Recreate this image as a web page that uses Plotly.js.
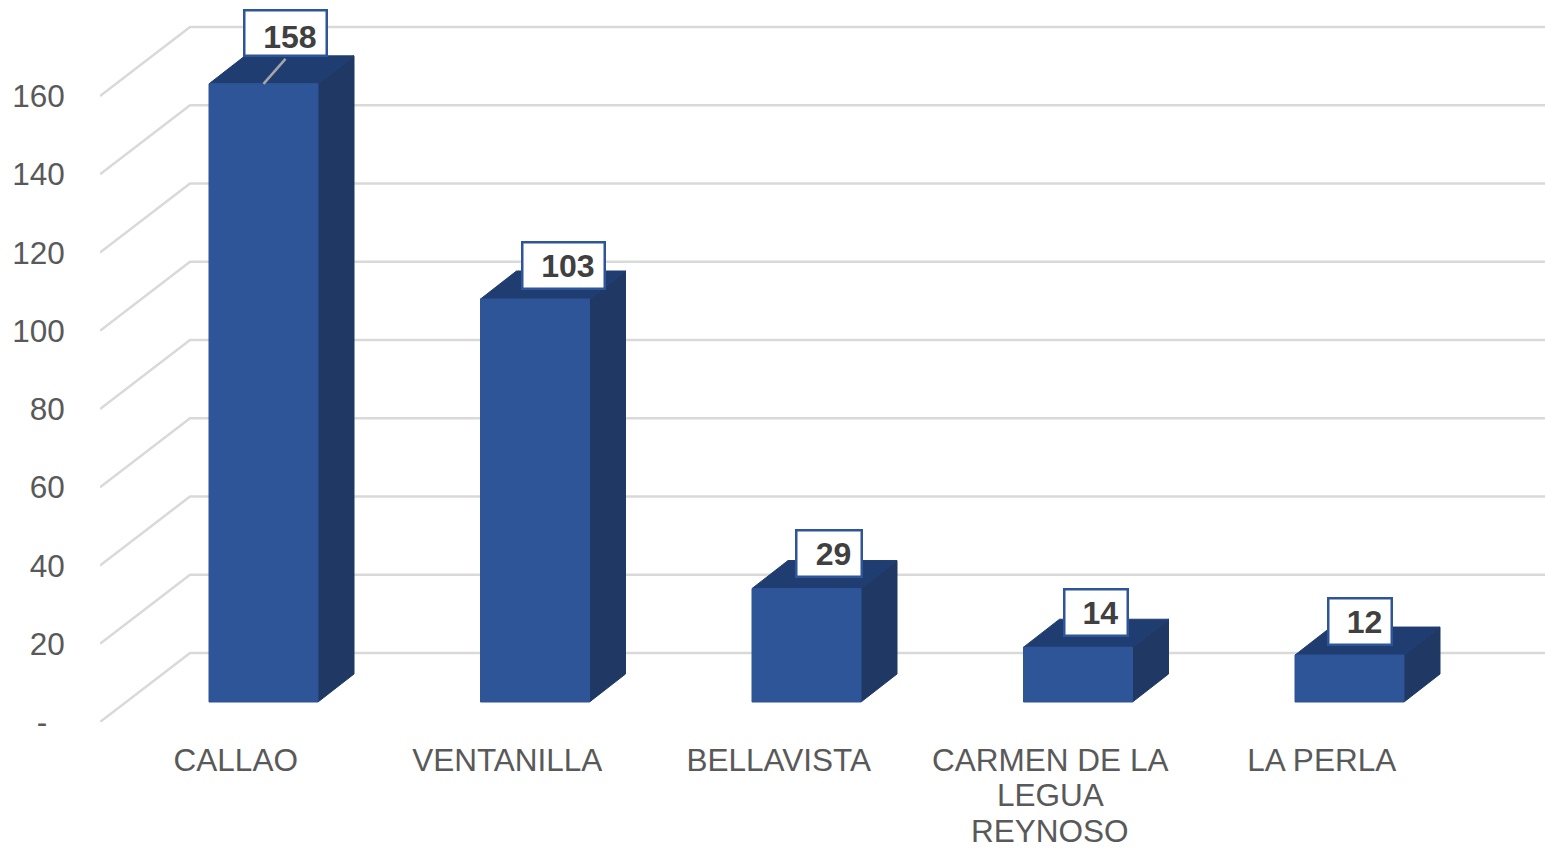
<!DOCTYPE html>
<html>
<head>
<meta charset="utf-8">
<script src="https://cdn.plot.ly/plotly-3.0.1.min.js"></script>
<style>html,body{margin:0;padding:0;background:#fff;overflow:hidden}</style>
</head>
<body>
<div id="chart" style="width:1545px;height:850px"></div>
<script>
// ---- data ----
const categories = ["CALLAO", "VENTANILLA", "BELLAVISTA", "CARMEN DE LA", "LA PERLA"];
const categoryExtraLines = [[], [], [], ["LEGUA", "REYNOSO"], []];
const values = [158, 103, 29, 14, 12];
const yTickValues = [0, 20, 40, 60, 80, 100, 120, 140, 160];
const yTickLabels = ["-\u00a0\u00a0", "20", "40", "60", "80", "100", "120", "140", "160"];
const gridValues = [0, 20, 40, 60, 80, 100, 120, 140, 160];

// ---- geometry of the fake 3D projection (pixels) ----
const W = 1545, H = 850, L = 100, B = 128;
const CAT_PX = 271.5, UNIT_PX = 3.9125;
const dxU = px => px / CAT_PX;
const dyU = px => px / UNIT_PX;
const xRange = [-0.5, -0.5 + (W - L) / CAT_PX];
const yRange = [0, (H - B) / UNIT_PX];
const WALL_DX = 90, WALL_DY = 69;
const BAR_SHIFT_X = 27.75, BAR_HALF = 54.5, BAR_LIFT = 20, BAR_DX = 36, BAR_DY = 28;
const labelShift = [[21.5, 51], [28, 34], [22, 35], [18, 35], [10, 34]];
const labelSize = [[84, 47], [84, 48], [67, 48], [65, 48], [65, 48]];
const labelValign = ["bottom", "middle", "middle", "middle", "middle"];

const C_FRONT = "#2E5597", C_SIDE = "#1F3864", C_TOP = "#203D72", C_GRID = "#D9D9D9";
const FONT = "Liberation Sans, Arial, sans-serif";
const traces = [];

// gridlines: left wall then back wall
const gx = [], gy = [];
gridValues.forEach(v => {
  gx.push(xRange[0], xRange[0] + dxU(WALL_DX), xRange[1], null);
  gy.push(v, v + dyU(WALL_DY), v + dyU(WALL_DY), null);
});
traces.push({type: "scatter", mode: "lines", x: gx, y: gy, hoverinfo: "skip", showlegend: false,
  line: {color: C_GRID, width: 2.5}});

function poly(xs, ys, color) {
  traces.push({type: "scatter", mode: "lines", x: xs, y: ys, fill: "toself", fillcolor: color,
    line: {color: color, width: 1}, hoverinfo: "skip", showlegend: false});
}

values.forEach((v, i) => {
  const c = i + dxU(BAR_SHIFT_X);
  const x0 = c - dxU(BAR_HALF), x1 = c + dxU(BAR_HALF);
  const y0 = dyU(BAR_LIFT), y1 = y0 + v;
  const ox = dxU(BAR_DX), oy = dyU(BAR_DY);
  poly([x1, x1 + ox, x1 + ox, x1, x1], [y0, y0 + oy, y1 + oy, y1, y0], C_SIDE);
  poly([x0, x0 + ox, x1 + ox, x1, x0], [y1, y1 + oy, y1 + oy, y1, y1], C_TOP);
  poly([x0, x1, x1, x0, x0], [y0, y0, y1, y1, y0], C_FRONT);
});

// leader line of the first label
{
  const c = dxU(BAR_SHIFT_X), t = dyU(BAR_LIFT) + values[0];
  traces.push({type: "scatter", mode: "lines", x: [c, c + dxU(22)], y: [t, t + dyU(25)],
    hoverinfo: "skip", showlegend: false, line: {color: "#A6A6A6", width: 2.5}});
}

const annotations = values.map((v, i) => ({
  x: i + dxU(BAR_SHIFT_X), y: dyU(BAR_LIFT) + v, xref: "x", yref: "y",
  xshift: labelShift[i][0], yshift: labelShift[i][1],
  text: "\u00a0" + v, showarrow: false, xanchor: "center", yanchor: "middle",
  width: labelSize[i][0] - 4, height: labelSize[i][1] - 4, borderpad: 0, borderwidth: 2.5,
  valign: labelValign[i],
  bgcolor: "#FFFFFF", bordercolor: C_FRONT,
  font: {family: FONT, size: 32, color: "#404040", weight: 700}
}));
categoryExtraLines.forEach((lines, i) => lines.forEach((t, j) => annotations.push({
  x: i, y: 0, xref: "x", yref: "y", yshift: -(73 + 36 * j), text: t, showarrow: false,
  xanchor: "center", yanchor: "middle",
  font: {family: FONT, size: 31.5, color: "#595959"}
})));

const layout = {
  width: W, height: H, margin: {l: L, r: 0, t: 0, b: B, pad: 0},
  paper_bgcolor: "#fff", plot_bgcolor: "#fff", showlegend: false, hovermode: false,
  font: {family: FONT, size: 31.5, color: "#595959"},
  xaxis: {type: "linear", range: xRange, tickmode: "array", tickvals: categories.map((_, i) => i),
    ticktext: categories, showgrid: false, zeroline: false, showline: false, ticks: "outside",
    ticklen: 10, tickcolor: "rgba(0,0,0,0)", tickangle: 0, automargin: false,
    tickfont: {size: 31.5, color: "#595959"}},
  yaxis: {type: "linear", range: yRange, tickmode: "array", tickvals: yTickValues,
    ticktext: yTickLabels, showgrid: false, zeroline: false, showline: false, ticks: "outside",
    ticklen: 28, tickcolor: "rgba(0,0,0,0)", automargin: false,
    tickfont: {size: 31.5, color: "#595959"}},
  annotations: annotations
};
Plotly.newPlot("chart", traces, layout, {displayModeBar: false, staticPlot: true});
</script>
</body>
</html>
